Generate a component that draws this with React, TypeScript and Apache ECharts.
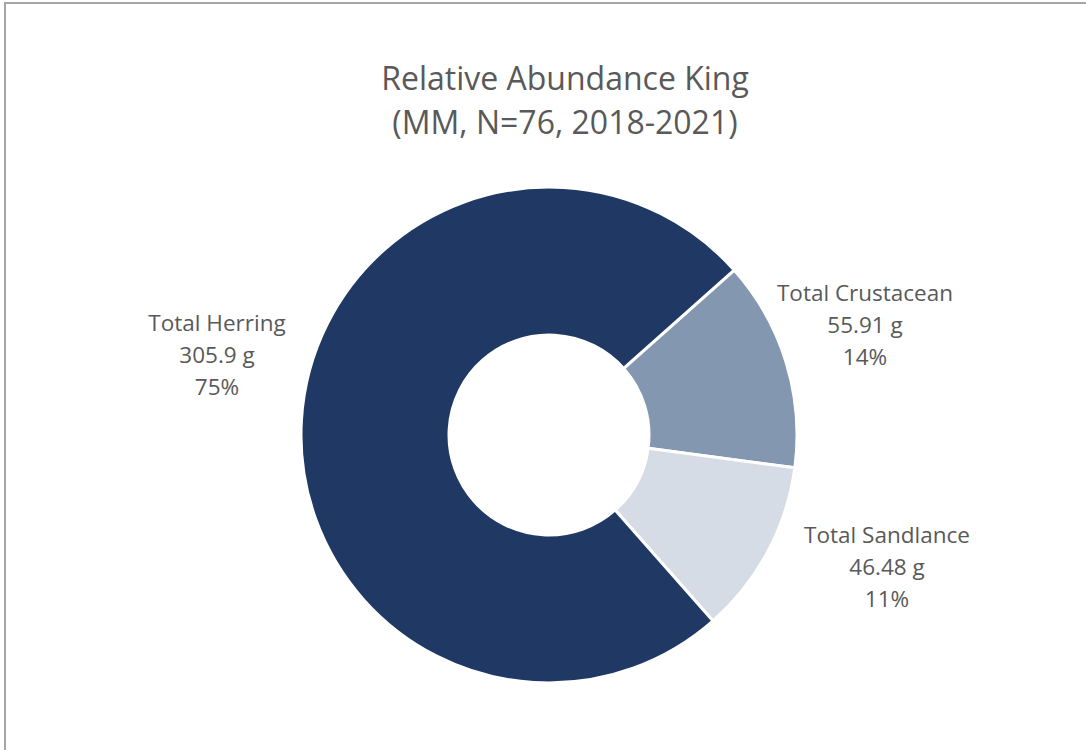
import React, { useEffect, useRef } from "react";
import * as echarts from "echarts";

const categories = ["Total Crustacean", "Total Sandlance", "Total Herring"];
const values = [55.91, 46.48, 305.9];
const colors = ["#8497B0", "#D6DCE5", "#203864"];
const titleLines = ["Relative Abundance King", "(MM, N=76, 2018-2021)"];
const labelPos: [number, number][] = [
  [865, 324],
  [887, 566],
  [217, 354],
];

export default function App() {
  const ref = useRef<HTMLDivElement>(null);
  useEffect(() => {
    if (!ref.current) return;
    const chart = echarts.init(ref.current, undefined, { renderer: "svg" });
    const font = "'Open Sans', 'Noto Sans', sans-serif";
    chart.setOption({
      animation: false,
      backgroundColor: "#ffffff",
      title: {
        text: titleLines.join("\n"),
        left: 560,
        top: 50,
        textAlign: "center",
        textStyle: {
          fontFamily: font,
          fontSize: 32,
          fontWeight: "normal",
          color: "#595959",
          lineHeight: 44,
        },
      },
      graphic: [
        {
          type: "polyline",
          shape: { points: [[5, 750], [5, 3], [1086, 3]] },
          style: { stroke: "#A6A6A6", lineWidth: 2, fill: "none" },
          silent: true,
        },
      ],
      series: [
        {
          type: "pie",
          center: [549, 435],
          radius: [100, 248],
          startAngle: 41.7,
          clockwise: true,
          percentPrecision: 0,
          itemStyle: { borderColor: "#ffffff", borderWidth: 3 },
          label: {
            show: true,
            position: "outside",
            formatter: (p: any) => `${p.name}\n${p.value} g\n${p.percent}%`,
            fontFamily: font,
            fontSize: 22.5,
            color: "#595959",
            lineHeight: 32,
            align: "center",
          },
          labelLine: { show: false },
          labelLayout: (params: any) => {
            const pos = labelPos[params.dataIndex];
            return { x: pos[0], y: pos[1], align: "center", verticalAlign: "middle" };
          },
          data: categories.map((name, i) => ({
            name,
            value: values[i],
            itemStyle: { color: colors[i] },
          })),
        },
      ],
    });
    return () => chart.dispose();
  }, []);
  return (
    <div
      ref={ref}
      style={{ position: "fixed", left: 0, top: 0, width: 1086, height: 750 }}
    />
  );
}
